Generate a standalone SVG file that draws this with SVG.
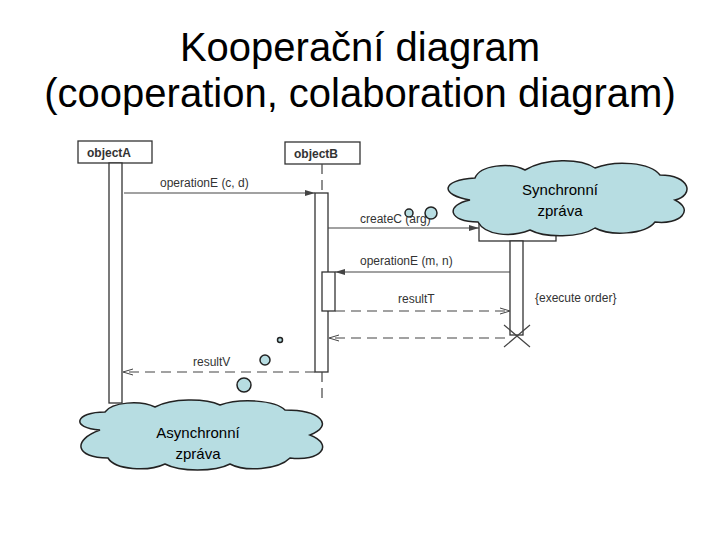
<svg xmlns="http://www.w3.org/2000/svg" width="720" height="540" viewBox="0 0 720 540">
<style>
.t{font-family:"Liberation Sans",Arial,sans-serif;fill:#000}
.s{font-family:"Liberation Sans",Arial,sans-serif;font-size:12px;fill:#333}
.b{fill:#fff;stroke:#333;stroke-width:1.3}
.l{stroke:#444;stroke-width:1.2;fill:none}
.d{stroke:#444;stroke-width:1.2;fill:none;stroke-dasharray:10,6}
.c{fill:#b7dde2;stroke:#222;stroke-width:1.5}
</style>
<defs>
<marker id="a" markerWidth="10" markerHeight="8" refX="10" refY="4" orient="auto" markerUnits="userSpaceOnUse"><path d="M0,1 L10,4 L0,7 Z" fill="#444"/></marker>
<marker id="o" markerWidth="10" markerHeight="8" refX="10" refY="4" orient="auto" markerUnits="userSpaceOnUse"><path d="M0,1 L10,4 L0,7" fill="none" stroke="#444"/></marker>
</defs>
<rect width="720" height="540" fill="#fff"/>
<text class="t" x="360" y="61" font-size="40" text-anchor="middle">Kooperační diagram</text>
<text class="t" x="360" y="107" font-size="40" text-anchor="middle">(cooperation, colaboration diagram)</text>
<g id="objectA"><rect class="b" x="78" y="141" width="74" height="22"/><text class="s" x="87" y="157" font-weight="bold">objectA</text><rect class="b" x="109" y="163" width="13" height="240"/></g>
<g id="objectB"><rect class="b" x="285" y="142" width="75" height="22"/><text class="s" x="294" y="158" font-weight="bold">objectB</text>
<line class="d" x1="322" y1="164" x2="322" y2="193" stroke-dasharray="6,6"/><rect class="b" x="315" y="193" width="13" height="179"/><rect class="b" x="322" y="272" width="13" height="39"/><line class="d" x1="322" y1="372" x2="322" y2="402" stroke-dasharray="6,6"/></g>
<g id="objectC"><rect class="b" x="479" y="200" width="77" height="41"/><rect class="b" x="510" y="241" width="13" height="94"/><path class="l" d="M504,325 L530,347 M530,325 L504,347"/><text class="s" x="535" y="302">{execute order}</text></g>
<g id="connectors">
<line class="l" x1="124" y1="193" x2="315" y2="193" marker-end="url(#a)"/><text class="s" x="160" y="187">operationE (c, d)</text>
<line class="l" x1="328" y1="228" x2="479" y2="228" marker-end="url(#a)"/><text class="s" x="360" y="223">createC (arg)</text>
<line class="l" x1="510" y1="272" x2="335" y2="272" marker-end="url(#a)"/><text class="s" x="360" y="265">operationE (m, n)</text>
<line class="d" x1="335" y1="311" x2="510" y2="311" marker-end="url(#o)"/><text class="s" x="398" y="303">resultT</text>
<line class="d" x1="505" y1="338" x2="329" y2="338" marker-end="url(#o)"/>
<line class="d" x1="315" y1="372" x2="123" y2="372" marker-end="url(#o)"/><text class="s" x="193" y="366">resultV</text>
</g>
<g id="syncCloud">
<circle class="c" cx="431" cy="213" r="6"/><circle class="c" cx="409" cy="213" r="4"/>
<path class="c" d="M470,200 C440,195 440,180 475,178 C480,165 510,162 525,170 C545,158 580,158 595,168 C615,160 650,162 660,175 C690,175 695,195 675,200 C695,210 680,225 655,222 C645,235 610,236 595,228 C580,238 545,238 530,230 C510,238 485,235 478,222 C448,222 445,205 470,200 Z"/>
<text class="t" x="560" y="195" font-size="15" text-anchor="middle">Synchronní</text>
<text class="t" x="560" y="216" font-size="15" text-anchor="middle">zpráva</text></g>
<g id="asyncCloud">
<circle class="c" cx="280" cy="340" r="2.5"/><circle class="c" cx="265" cy="360" r="5"/><circle class="c" cx="244" cy="385" r="7"/>
<path class="c" d="M100,430 C70,428 75,412 105,412 C112,402 140,400 155,407 C172,398 205,398 220,405 C240,398 275,400 285,410 C320,410 335,425 310,435 C335,445 320,462 290,458 C278,470 245,472 230,464 C215,472 180,472 165,464 C148,472 115,470 108,458 C75,458 72,440 100,430 Z"/>
<text class="t" x="198" y="438" font-size="15" text-anchor="middle">Asynchronní</text>
<text class="t" x="198" y="459" font-size="15" text-anchor="middle">zpráva</text></g>
</svg>
